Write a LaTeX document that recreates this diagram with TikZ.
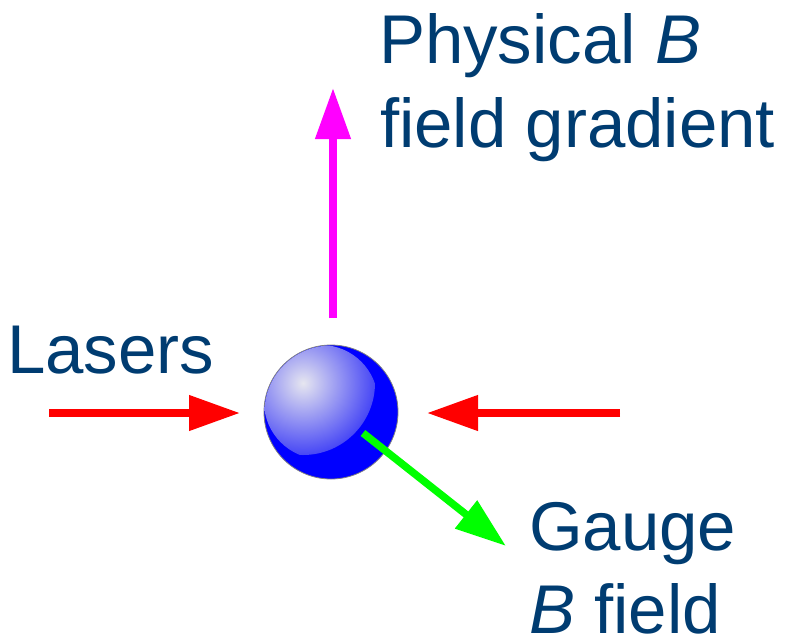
\documentclass[tikz,border=0pt]{standalone}
\usepackage{fontspec}
\setmainfont{Liberation Sans}
\usetikzlibrary{arrows.meta}
\definecolor{txtblue}{RGB}{0,60,113}
\definecolor{mag}{RGB}{255,0,255}
\definecolor{rd}{RGB}{255,0,0}
\definecolor{grn}{RGB}{0,255,0}
\definecolor{ballblue}{RGB}{0,0,255}
\definecolor{balllight}{RGB}{230,230,240}
\definecolor{ballmid}{RGB}{70,70,245}
\tikzset{
  lbl/.style={anchor=base west, inner sep=0pt, outer sep=0pt, text=txtblue, font=\fontsize{69}{83}\selectfont},
  fatarrow/.style={line width=7.5pt, -{Triangle[length=51pt,width=34pt]}},
}
\begin{document}
\begin{tikzpicture}[x=1pt,y=-1pt]
\useasboundingbox (0,0) rectangle (785,638);
% sphere
\node[circle, minimum size=134pt, inner sep=0pt, fill=ballblue, draw=gray, line width=0.8pt] (atom) at (331,412) {};
\begin{scope}
  \clip (321,402) circle (57);
  \clip (331,412) circle (66.5);
  \shade[inner color=balllight, outer color=ballmid] (303,383) circle (72);
\end{scope}
% coordinates
\coordinate (mstart) at (333,318);
\coordinate (mtip) at (333,88);
\coordinate (lstart) at (49,413);
\coordinate (ltip) at (240,413);
\coordinate (rstart) at (620,413);
\coordinate (rtip) at (427,413);
\coordinate (gstart) at (363,433);
\coordinate (gtip) at (506,546);
% arrows
\draw[fatarrow, draw=mag, fill=mag] (mstart) -- (mtip);
\draw[fatarrow, draw=rd, fill=rd] (lstart) -- (ltip);
\draw[fatarrow, draw=rd, fill=rd] (rstart) -- (rtip);
\draw[fatarrow, draw=grn, fill=grn] (gstart) -- (gtip);
% labels
\node[lbl] (phys1) at (379,63) {Physical \textit{B}};
\node[lbl] (phys2) at (380,147) {field gradient};
\node[lbl] (lasers) at (7,373) {Lasers};
\node[lbl] (gauge1) at (529,550) {Gauge};
\node[lbl] (gauge2) at (529,633) {\textit{B} field};
\end{tikzpicture}
\end{document}
